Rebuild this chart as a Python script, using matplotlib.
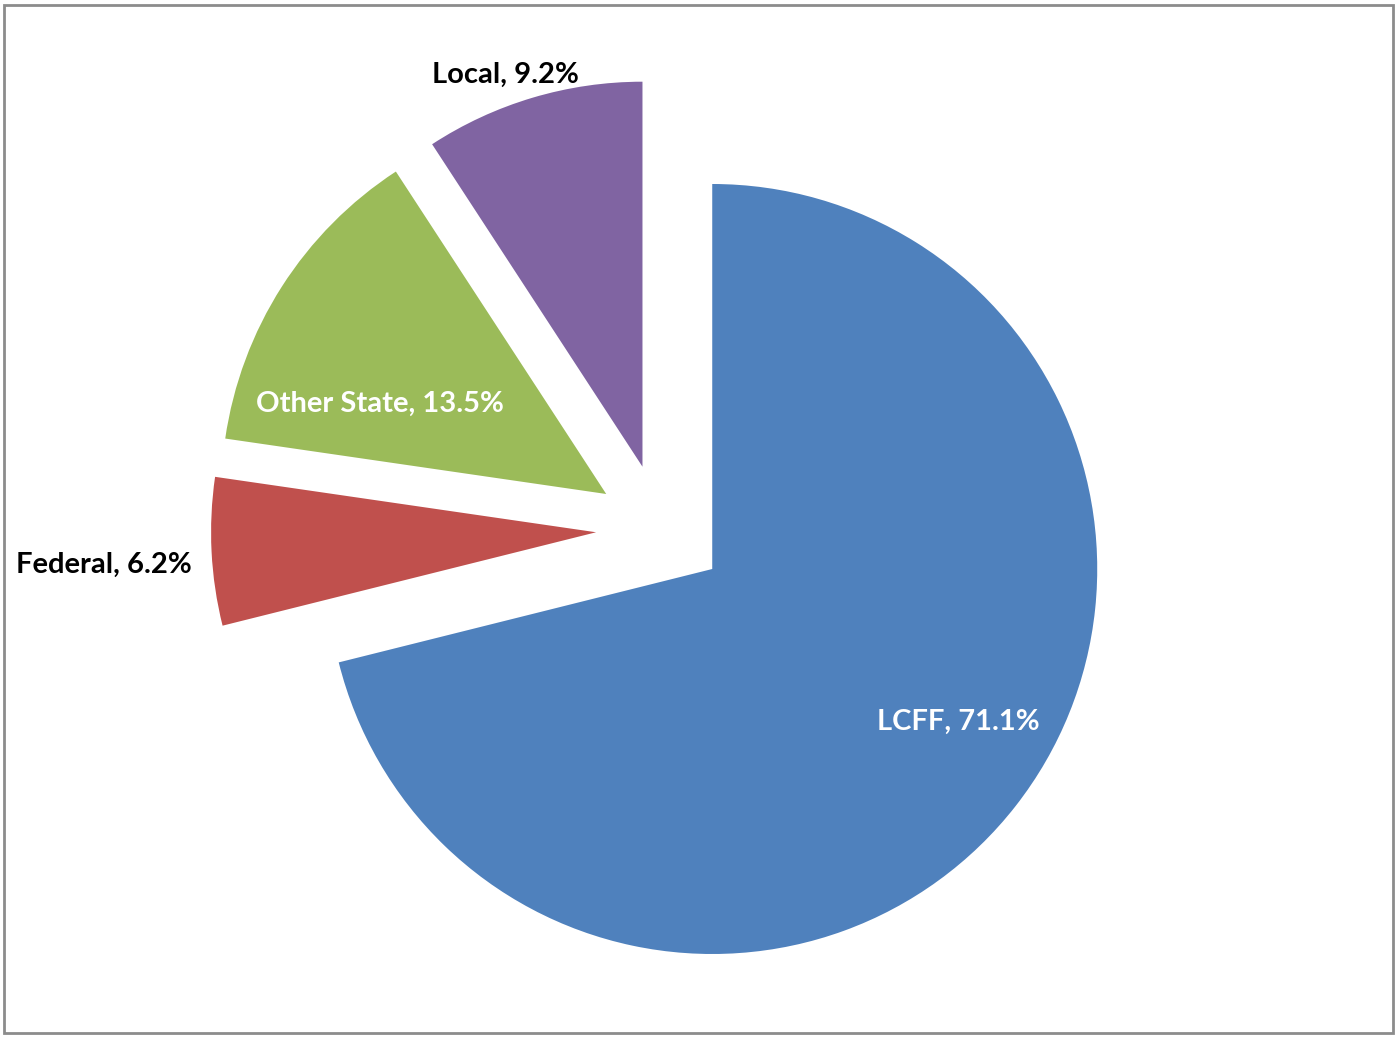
import matplotlib.pyplot as plt
from matplotlib import patches as pa

# Data
sources = ['LCFF', 'Federal', 'Other State', 'Local']
shares = [71.1, 6.2, 13.5, 9.2]
colors = ['#4F81BD', '#C0504D', '#9BBB59', '#8064A2']
label_colors = ['white', 'black', 'white', 'black']

# Layout (pixel coords, y measured from bottom)
W, H = 1400, 1038
center = (661, 509)
radius = 385
explode_px = 65
label_pos = [(958, 316), (104, 473), (380, 634), (505, 963)]

plt.rcParams['font.family'] = ['Lato', 'DejaVu Sans']

fig = plt.figure(figsize=(W / 100, H / 100), dpi=100)
ax = fig.add_axes([0, 0, 1, 1])

# explode is in data units here (pixels)
ax.pie(shares, colors=colors, startangle=90, counterclock=False,
       center=center, radius=radius,
       explode=[explode_px] * len(shares),
       wedgeprops=dict(linewidth=0))
ax.set_xlim(0, W)
ax.set_ylim(0, H)
ax.set_aspect('equal')
ax.axis('off')

for name, val, col, (x, y) in zip(sources, shares, label_colors, label_pos):
    ax.text(x, y, f'{name}, {val}%', color=col, fontsize=21, fontweight='bold',
            ha='center', va='center', zorder=5)

# Outer frame
ax.add_patch(pa.Rectangle((4, 5), 1389, 1028, fill=False,
                          edgecolor='#8c8c8c', linewidth=2))

fig.savefig('out.png', dpi=100)
